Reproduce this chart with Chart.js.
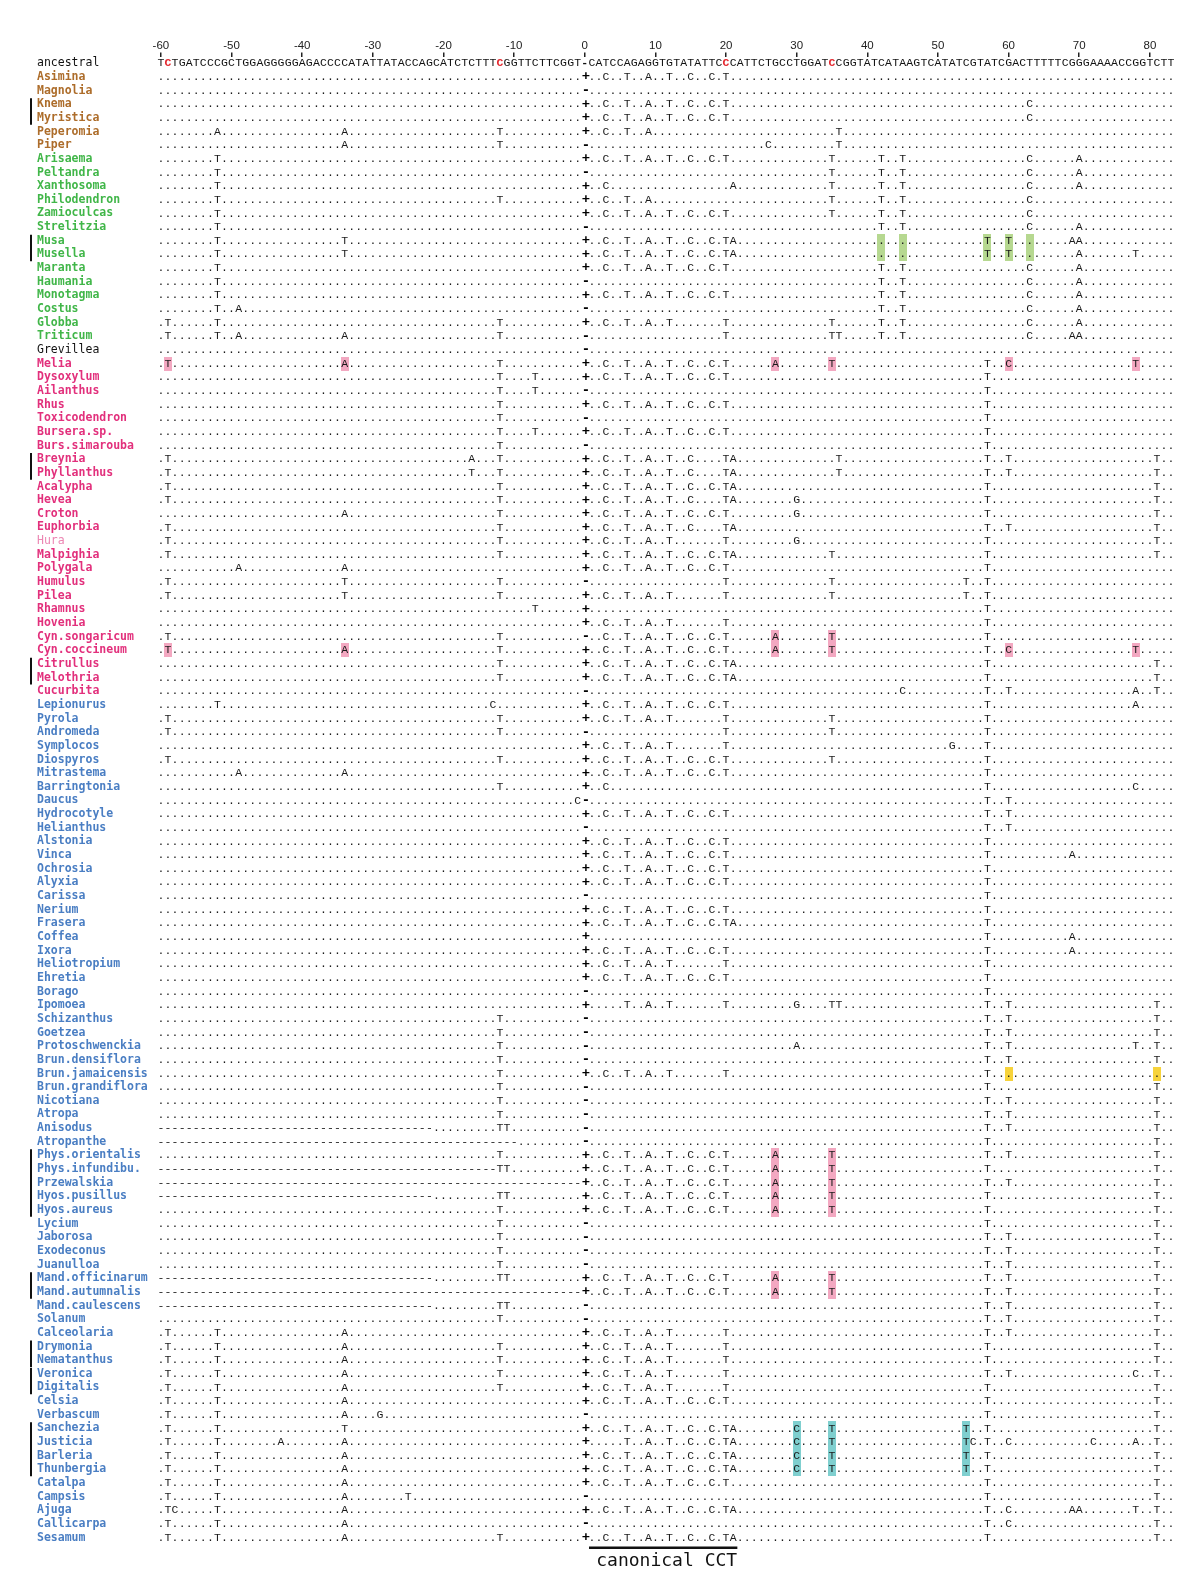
<!DOCTYPE html>
<html>
<head>
<meta charset="utf-8">
<script src="https://cdn.jsdelivr.net/npm/chart.js@4/dist/chart.umd.min.js"></script>
<style>
    body { margin: 0; background: #fff; }
    canvas { display: block; }
</style>
</head>
<body>
<canvas id="alignChart" width="1200" height="1595"></canvas>
<script>
// ancestral sequence, positions -60..83 ('-' sits on position 0)
const ancestral = 'TCTGATCCCGCTGGAGGGGGAGACCCCATATTATACCAGCATCTCTTTCGGTTCTTCGGT' + '-' +
    'CATCCAGAGGTGTATATTCCCATTCTGCCTGGATCCGGTATCATAAGTCATATCGTATCGACTTTTTCGGGAAAACCGGTCTT';
const firstPos = -60;
const lastPos = 83;
const redSites = [-59, -12, 20, 35];
const axisTicks = [-60, -50, -40, -30, -20, -10, 0, 10, 20, 30, 40, 50, 60, 70, 80];

const magnoliids = ['Asimina', 'Magnolia', 'Knema', 'Myristica', 'Peperomia', 'Piper'];
const monocots = ['Arisaema', 'Peltandra', 'Xanthosoma', 'Philodendron', 'Zamioculcas', 'Strelitzia',
    'Musa', 'Musella', 'Maranta', 'Haumania', 'Monotagma', 'Costus', 'Globba', 'Triticum'];
const proteales = ['Grevillea'];
const rosids = ['Melia', 'Dysoxylum', 'Ailanthus', 'Rhus', 'Toxicodendron', 'Bursera.sp.', 'Burs.simarouba',
    'Breynia', 'Phyllanthus', 'Acalypha', 'Hevea', 'Croton', 'Euphorbia', 'Hura', 'Malpighia', 'Polygala',
    'Humulus', 'Pilea', 'Rhamnus', 'Hovenia', 'Cyn.songaricum', 'Cyn.coccineum', 'Citrullus', 'Melothria',
    'Cucurbita'];
const asterids = ['Lepionurus', 'Pyrola', 'Andromeda', 'Symplocos', 'Diospyros', 'Mitrastema', 'Barringtonia',
    'Daucus', 'Hydrocotyle', 'Helianthus', 'Alstonia', 'Vinca', 'Ochrosia', 'Alyxia', 'Carissa', 'Nerium',
    'Frasera', 'Coffea', 'Ixora', 'Heliotropium', 'Ehretia', 'Borago', 'Ipomoea', 'Schizanthus', 'Goetzea',
    'Protoschwenckia', 'Brun.densiflora', 'Brun.jamaicensis', 'Brun.grandiflora', 'Nicotiana', 'Atropa',
    'Anisodus', 'Atropanthe', 'Phys.orientalis', 'Phys.infundibu.', 'Przewalskia', 'Hyos.pusillus',
    'Hyos.aureus', 'Lycium', 'Jaborosa', 'Exodeconus', 'Juanulloa', 'Mand.officinarum', 'Mand.autumnalis',
    'Mand.caulescens', 'Solanum', 'Calceolaria', 'Drymonia', 'Nematanthus', 'Veronica', 'Digitalis', 'Celsia',
    'Verbascum', 'Sanchezia', 'Justicia', 'Barleria', 'Thunbergia', 'Catalpa', 'Campsis', 'Ajuga',
    'Callicarpa', 'Sesamum'];

// per taxon, same order: '0+' / '0-' is the mark at position 0, the rest are position + base
const sites = [
    '0+ 3C 6T 9A 12T 15C 18C 20T',                                   // Asimina
    '0-',                                                            // Magnolia
    '0+ 3C 6T 9A 12T 15C 18C 20T 63C',                               // Knema
    '0+ 3C 6T 9A 12T 15C 18C 20T 63C',                               // Myristica
    '-52A -34A -12T 0+ 3C 6T 9A 36T',                                // Peperomia
    '-34A -12T 0- 26C 36T',                                          // Piper
    '-52T 0+ 3C 6T 9A 12T 15C 18C 20T 35T 42T 45T 63C 70A',          // Arisaema
    '-52T 0- 35T 42T 45T 63C 70A',                                   // Peltandra
    '-52T 0+ 3C 21A 35T 42T 45T 63C 70A',                            // Xanthosoma
    '-52T -12T 0+ 3C 6T 9A 35T 42T 45T 63C',                         // Philodendron
    '-52T 0+ 3C 6T 9A 12T 15C 18C 20T 35T 42T 45T 63C',              // Zamioculcas
    '-52T 0- 42T 45T 63C 70A',                                       // Strelitzia
    '-52T -34T 0+ 3C 6T 9A 12T 15C 18C 20T 21A 57T 60T 69A 70A',     // Musa
    '-52T -34T 0+ 3C 6T 9A 12T 15C 18C 20T 21A 57T 60T 70A 78T',     // Musella
    '-52T 0+ 3C 6T 9A 12T 15C 18C 20T 42T 45T 63C 70A',              // Maranta
    '-52T 0- 42T 45T 63C 70A',                                       // Haumania
    '-52T 0+ 3C 6T 9A 12T 15C 18C 20T 42T 45T 63C 70A',              // Monotagma
    '-52T -49A 0- 42T 45T 63C 70A',                                  // Costus
    '-59T -52T -12T 0+ 3C 6T 9A 12T 20T 35T 42T 45T 63C 70A',        // Globba
    '-59T -52T -49A -34A -12T 0- 20T 35T 36T 42T 45T 63C 69A 70A',   // Triticum
    '0-',                                                            // Grevillea
    '-59T -34A -12T 0+ 3C 6T 9A 12T 15C 18C 20T 27A 35T 57T 60C 78T', // Melia
    '-12T -7T 0+ 3C 6T 9A 12T 15C 18C 20T 57T',                      // Dysoxylum
    '-12T -7T 0- 57T',                                               // Ailanthus
    '-12T 0+ 3C 6T 9A 12T 15C 18C 20T 57T',                          // Rhus
    '-12T 0- 57T',                                                   // Toxicodendron
    '-12T -7T 0+ 3C 6T 9A 12T 15C 18C 20T 57T',                      // Bursera.sp.
    '-12T 0- 57T',                                                   // Burs.simarouba
    '-59T -16A -12T 0+ 3C 6T 9A 12T 15C 20T 21A 36T 57T 60T 81T',    // Breynia
    '-59T -16T -12T 0+ 3C 6T 9A 12T 15C 20T 21A 36T 57T 60T 81T',    // Phyllanthus
    '-59T -12T 0+ 3C 6T 9A 12T 15C 18C 20T 21A 57T 81T',             // Acalypha
    '-59T -12T 0+ 3C 6T 9A 12T 15C 20T 21A 30G 57T 81T',             // Hevea
    '-34A -12T 0+ 3C 6T 9A 12T 15C 18C 20T 30G 57T 81T',             // Croton
    '-59T -12T 0+ 3C 6T 9A 12T 15C 20T 21A 57T 60T 81T',             // Euphorbia
    '-59T -12T 0+ 3C 6T 9A 12T 20T 30G 57T 81T',                     // Hura
    '-59T -12T 0+ 3C 6T 9A 12T 15C 18C 20T 21A 35T 57T 81T',         // Malpighia
    '-49A -34A 0+ 3C 6T 9A 12T 15C 18C 20T 57T',                     // Polygala
    '-59T -34T -12T 0- 20T 35T 54T 57T',                             // Humulus
    '-59T -34T -12T 0+ 3C 6T 9A 12T 20T 35T 54T 57T',                // Pilea
    '-7T 0+ 57T',                                                    // Rhamnus
    '0+ 3C 6T 9A 12T 20T 57T',                                       // Hovenia
    '-59T -12T 0- 3C 6T 9A 12T 15C 18C 20T 27A 35T 57T',             // Cyn.songaricum
    '-59T -34A -12T 0+ 3C 6T 9A 12T 15C 18C 20T 27A 35T 57T 60C 78T', // Cyn.coccineum
    '-12T 0+ 3C 6T 9A 12T 15C 18C 20T 21A 57T 81T',                  // Citrullus
    '-12T 0+ 3C 6T 9A 12T 15C 18C 20T 21A 57T 81T',                  // Melothria
    '0- 45C 57T 60T 78A 81T',                                        // Cucurbita
    '-52T -13C 0+ 3C 6T 9A 12T 15C 18C 20T 57T 78A',                 // Lepionurus
    '-59T -12T 0+ 3C 6T 9A 12T 20T 35T 57T',                         // Pyrola
    '-59T -12T 0- 20T 35T 57T',                                      // Andromeda
    '0+ 3C 6T 9A 12T 20T 52G 57T',                                   // Symplocos
    '-59T -12T 0+ 3C 6T 9A 12T 15C 18C 20T 35T 57T',                 // Diospyros
    '-49A -34A 0+ 3C 6T 9A 12T 15C 18C 20T 57T',                     // Mitrastema
    '-12T 0+ 3C 57T 78C',                                            // Barringtonia
    '-1C 0- 57T 60T',                                                // Daucus
    '0+ 3C 6T 9A 12T 15C 18C 20T 57T 60T',                           // Hydrocotyle
    '0- 57T 60T',                                                    // Helianthus
    '0+ 3C 6T 9A 12T 15C 18C 20T 57T',                               // Alstonia
    '0+ 3C 6T 9A 12T 15C 18C 20T 57T 69A',                           // Vinca
    '0+ 3C 6T 9A 12T 15C 18C 20T 57T',                               // Ochrosia
    '0+ 3C 6T 9A 12T 15C 18C 20T 57T',                               // Alyxia
    '0- 57T',                                                        // Carissa
    '0+ 3C 6T 9A 12T 15C 18C 20T 57T',                               // Nerium
    '0+ 3C 6T 9A 12T 15C 18C 20T 21A 57T',                           // Frasera
    '0+ 57T 69A',                                                    // Coffea
    '0+ 3C 6T 9A 12T 15C 18C 20T 57T 69A',                           // Ixora
    '0+ 3C 6T 9A 12T 20T 57T',                                       // Heliotropium
    '0+ 3C 6T 9A 12T 15C 18C 20T 57T',                               // Ehretia
    '0- 57T',                                                        // Borago
    '0+ 6T 9A 12T 20T 30G 35T 36T 57T 60T 81T',                      // Ipomoea
    '-12T 0- 57T 60T 81T',                                           // Schizanthus
    '-12T 0- 57T 60T 81T',                                           // Goetzea
    '-12T 0- 30A 57T 60T 78T 81T',                                   // Protoschwenckia
    '-12T 0- 57T 60T 81T',                                           // Brun.densiflora
    '-12T 0+ 3C 6T 9A 12T 20T 57T',                                  // Brun.jamaicensis
    '-12T 0- 57T 81T',                                               // Brun.grandiflora
    '-12T 0- 57T 60T 81T',                                           // Nicotiana
    '-12T 0- 57T 60T 81T',                                           // Atropa
    '-12T -11T 0- 57T 60T 81T',                                      // Anisodus
    '0- 57T 81T',                                                    // Atropanthe
    '-12T 0+ 3C 6T 9A 12T 15C 18C 20T 27A 35T 57T 60T 81T',          // Phys.orientalis
    '-12T -11T 0+ 3C 6T 9A 12T 15C 18C 20T 27A 35T 57T 81T',         // Phys.infundibu.
    '0+ 3C 6T 9A 12T 15C 18C 20T 27A 35T 57T 60T 81T',               // Przewalskia
    '-12T -11T 0+ 3C 6T 9A 12T 15C 18C 20T 27A 35T 57T 81T',         // Hyos.pusillus
    '-12T 0+ 3C 6T 9A 12T 15C 18C 20T 27A 35T 57T 81T',              // Hyos.aureus
    '-12T 0- 57T 81T',                                               // Lycium
    '-12T 0- 57T 60T 81T',                                           // Jaborosa
    '-12T 0- 57T 60T 81T',                                           // Exodeconus
    '-12T 0- 57T 60T 81T',                                           // Juanulloa
    '-12T -11T 0+ 3C 6T 9A 12T 15C 18C 20T 27A 35T 57T 60T 81T',     // Mand.officinarum
    '0+ 3C 6T 9A 12T 15C 18C 20T 27A 35T 57T 60T 81T',               // Mand.autumnalis
    '-12T -11T 0- 57T 60T 81T',                                      // Mand.caulescens
    '-12T 0- 57T 60T 81T',                                           // Solanum
    '-59T -52T -34A 0+ 3C 6T 9A 12T 20T 57T 60T 81T',                // Calceolaria
    '-59T -52T -34A -12T 0+ 3C 6T 9A 12T 20T 57T 81T',               // Drymonia
    '-59T -52T -34A -12T 0+ 3C 6T 9A 12T 20T 57T 81T',               // Nematanthus
    '-59T -52T -34A -12T 0+ 3C 6T 9A 12T 20T 57T 60T 78C 81T',       // Veronica
    '-59T -52T -34A -12T 0+ 3C 6T 9A 12T 20T 57T 81T',               // Digitalis
    '-59T -52T -34A 0+ 3C 6T 9A 12T 15C 18C 20T 57T 81T',            // Celsia
    '-59T -52T -34A -29G 0- 57T 81T',                                // Verbascum
    '-59T -52T -34T 0+ 3C 6T 9A 12T 15C 18C 20T 21A 30C 35T 54T 57T 81T', // Sanchezia
    '-59T -52T -43A -34A 0+ 6T 9A 12T 15C 18C 20T 21A 30C 35T 54T 55C 57T 60C 72C 78A 81T', // Justicia
    '-59T -52T -34A 0+ 3C 6T 9A 12T 15C 18C 20T 21A 30C 35T 54T 57T 81T', // Barleria
    '-59T -52T -34A 0+ 3C 6T 9A 12T 15C 18C 20T 21A 30C 35T 54T 57T 81T', // Thunbergia
    '-59T -52T -34A 0+ 3C 6T 9A 12T 15C 18C 20T 57T 81T',            // Catalpa
    '-59T -52T -34A -25T 0- 57T 81T',                                // Campsis
    '-59T -58C -52T -34A 0+ 3C 6T 9A 12T 15C 18C 20T 21A 57T 60C 69A 70A 78T 81T', // Ajuga
    '-59T -52T -34A 0- 57T 60C 81T',                                 // Callicarpa
    '-59T -52T -34A -12T 0+ 3C 6T 9A 12T 15C 18C 20T 21A 57T 81T'    // Sesamum
];

// leading alignment gaps: taxon, first and last gapped position
const gaps = [
    ['Anisodus', -60, -22], ['Atropanthe', -60, -10], ['Phys.infundibu.', -60, -13],
    ['Przewalskia', -60, -1], ['Hyos.pusillus', -60, -22], ['Mand.officinarum', -60, -22],
    ['Mand.autumnalis', -60, -1], ['Mand.caulescens', -60, -22]
];

// shaded cells: taxon, position
const greenCells = [['Musa', 42], ['Musa', 45], ['Musa', 57], ['Musa', 60], ['Musa', 63],
    ['Musella', 42], ['Musella', 45], ['Musella', 57], ['Musella', 60], ['Musella', 63]];
const pinkCells = [['Melia', -59], ['Melia', -34], ['Melia', 27], ['Melia', 35], ['Melia', 60], ['Melia', 78],
    ['Cyn.songaricum', 27], ['Cyn.songaricum', 35],
    ['Cyn.coccineum', -59], ['Cyn.coccineum', -34], ['Cyn.coccineum', 27], ['Cyn.coccineum', 35],
    ['Cyn.coccineum', 60], ['Cyn.coccineum', 78],
    ['Phys.orientalis', 27], ['Phys.orientalis', 35], ['Phys.infundibu.', 27], ['Phys.infundibu.', 35],
    ['Przewalskia', 27], ['Przewalskia', 35], ['Hyos.pusillus', 27], ['Hyos.pusillus', 35],
    ['Hyos.aureus', 27], ['Hyos.aureus', 35],
    ['Mand.officinarum', 27], ['Mand.officinarum', 35], ['Mand.autumnalis', 27], ['Mand.autumnalis', 35]];
const yellowCells = [['Brun.jamaicensis', 60], ['Brun.jamaicensis', 81]];
const tealCells = [['Sanchezia', 30], ['Sanchezia', 35], ['Sanchezia', 54],
    ['Justicia', 30], ['Justicia', 35], ['Justicia', 54],
    ['Barleria', 30], ['Barleria', 35], ['Barleria', 54],
    ['Thunbergia', 30], ['Thunbergia', 35], ['Thunbergia', 54]];

const brackets = [['Knema', 'Myristica'], ['Musa', 'Musella'], ['Breynia', 'Phyllanthus'],
    ['Citrullus', 'Melothria'], ['Phys.orientalis', 'Hyos.aureus'], ['Mand.officinarum', 'Mand.autumnalis'],
    ['Drymonia', 'Nematanthus'], ['Veronica', 'Digitalis'], ['Sanchezia', 'Thunbergia']];

const taxa = [...magnoliids, ...monocots, ...proteales, ...rosids, ...asterids];
const rowLabels = ['ancestral', ...taxa];

const MONO = '"Liberation Mono", "DejaVu Sans Mono", monospace';
const NAMEFONT = '"DejaVu Sans Mono", monospace';

function rowColor(i) {
    const name = rowLabels[i];
    if (name === 'Hura') return '#ec86b3';
    if (magnoliids.includes(name)) return '#ad6d2b';
    if (monocots.includes(name)) return '#41b649';
    if (rosids.includes(name)) return '#e2307c';
    if (asterids.includes(name)) return '#4a7ec3';
    return '#111';
}

function rowFont(i) {
    const name = rowLabels[i];
    const plain = i === 0 || name === 'Grevillea' || name === 'Hura';
    return {family: NAMEFONT, size: 11.5, weight: plain ? 'normal' : 'bold'};
}

function rowCells(k) {
    const cells = Array(ancestral.length).fill('.');
    gaps.filter(g => g[0] === taxa[k]).forEach(g => {
        for (let p = g[1]; p <= g[2]; p++) cells[p - firstPos] = '-';
    });
    sites[k].split(' ').forEach(tok => {
        const pos = parseInt(tok);
        if (!isNaN(pos)) cells[pos - firstPos] = tok.slice(-1);
    });
    return cells;
}

function cellBox(color) {
    const c = document.createElement('canvas');
    c.width = 8;
    c.height = 14;
    const g = c.getContext('2d');
    g.fillStyle = color;
    g.fillRect(0, 0, 8, 14);
    return c;
}

const shaded = [[greenCells, '#b6d890'], [pinkCells, '#f3a8c1'], [yellowCells, '#f7d33b'], [tealCells, '#7fcfcf']];

const sequencePlugin = {
    id: 'sequence',
    afterDatasetsDraw(chart) {
        const {ctx, scales: {x, y}} = chart;
        ctx.save();
        ctx.textAlign = 'center';
        ctx.textBaseline = 'middle';

        // ancestral row
        for (let i = 0; i < ancestral.length; i++) {
            const pos = i + firstPos;
            const red = redSites.includes(pos);
            ctx.font = (red || pos === 0 ? 'bold ' : '') + '11.5px ' + MONO;
            ctx.fillStyle = red ? '#e3262d' : '#111';
            ctx.fillText(ancestral[i], x.getPixelForValue(pos), y.getPixelForValue(0));
        }

        // taxa
        taxa.forEach((name, k) => {
            const cells = rowCells(k);
            const yy = y.getPixelForValue(k + 1);
            ctx.font = '11.5px ' + MONO;
            ctx.fillStyle = '#1a1a1a';
            cells.forEach((ch, i) => {
                if (i + firstPos === 0) return;
                ctx.fillText(ch, x.getPixelForValue(i + firstPos), yy);
            });
            ctx.font = 'bold 13px ' + NAMEFONT;
            ctx.fillStyle = '#000';
            ctx.fillText(cells[-firstPos], x.getPixelForValue(0.15), yy);
        });
        ctx.restore();
    },
    afterDraw(chart) {
        const {ctx, scales: {x, y}} = chart;
        ctx.save();
        // clade brackets next to the names
        ctx.strokeStyle = '#111';
        ctx.lineWidth = 2;
        brackets.forEach(([a, b]) => {
            const y0 = y.getPixelForValue(rowLabels.indexOf(a) - 0.45);
            const y1 = y.getPixelForValue(rowLabels.indexOf(b) + 0.5);
            ctx.beginPath();
            ctx.moveTo(31, y0);
            ctx.lineTo(31, y1);
            ctx.stroke();
        });
        // canonical CCT underline and label
        const yb = y.getPixelForValue(rowLabels.length - 1);
        ctx.lineWidth = 2.5;
        ctx.beginPath();
        ctx.moveTo(x.getPixelForValue(0.6), yb + 10);
        ctx.lineTo(x.getPixelForValue(21.6), yb + 10);
        ctx.stroke();
        ctx.font = '18px "DejaVu Sans Mono", monospace';
        ctx.fillStyle = '#111';
        ctx.textAlign = 'center';
        ctx.textBaseline = 'middle';
        ctx.fillText('canonical CCT', x.getPixelForValue(11.6), yb + 24);
        ctx.restore();
    }
};

new Chart(document.getElementById('alignChart'), {
    type: 'scatter',
    data: {
        datasets: shaded.map(([cells, color]) => ({
            data: cells.map(([name, pos]) => ({x: pos, y: rowLabels.indexOf(name)})),
            pointStyle: cellBox(color),
            pointRadius: 4,
            pointHoverRadius: 4
        }))
    },
    options: {
        responsive: false,
        animation: false,
        devicePixelRatio: 1,
        layout: {padding: {left: 37, right: 25.4, top: 30, bottom: 50.5}},
        plugins: {
            legend: {display: false},
            tooltip: {enabled: false}
        },
        scales: {
            x: {
                type: 'linear',
                position: 'top',
                min: firstPos - 0.5,
                max: lastPos + 0.5,
                afterBuildTicks: s => { s.ticks = axisTicks.map(v => ({value: v})); },
                afterFit: s => { s.height = 26.5; },
                grid: {drawOnChartArea: false, drawTicks: true, tickLength: 4, color: '#222', lineWidth: 1.5},
                border: {display: false},
                ticks: {
                    padding: 0,
                    maxRotation: 0,
                    color: '#222',
                    font: {family: '"Liberation Sans", sans-serif', size: 11.5}
                }
            },
            y: {
                type: 'linear',
                reverse: true,
                min: -0.5,
                max: rowLabels.length - 0.5,
                afterBuildTicks: s => { s.ticks = rowLabels.map((_, i) => ({value: i})); },
                afterFit: s => { s.width = 120.4; },
                grid: {display: false},
                border: {display: false},
                ticks: {
                    autoSkip: false,
                    crossAlign: 'far',
                    padding: 0,
                    callback: v => rowLabels[v],
                    color: c => rowColor(c.index),
                    font: c => rowFont(c.index)
                }
            }
        }
    },
    plugins: [sequencePlugin]
});
</script>
</body>
</html>
